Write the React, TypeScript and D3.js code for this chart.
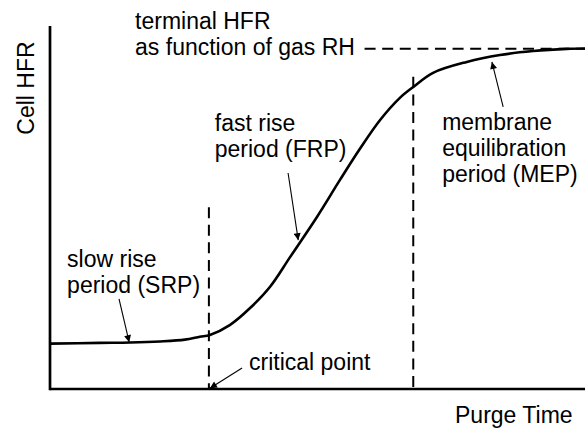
import React from "react";
import * as d3 from "d3";

// Schematic curve: purge time (0–100) vs cell HFR (0–100, arbitrary units)
const curveTime = [0, 9.3, 15, 20.6, 25.2, 28, 29.9, 33.6, 37.4, 41.1, 44.9, 49.9, 54.2, 57.9, 61.7, 65.4, 67.9, 71.6, 77.9, 84.1, 90.3, 96.6, 100];
const curveHFR = [12.5, 12.7, 12.8, 13.1, 13.6, 14.4, 14.9, 17.6, 22.3, 28.1, 36.4, 47.4, 57.6, 66.1, 74.1, 80.2, 83.2, 87.1, 90.1, 92.0, 93.1, 93.7, 93.8];

const terminalHFR = 93.7;
const terminalStart = 58.8;
const criticalTime = 29.7;
const criticalTop = 50.1;
const mepTime = 67.9;
const mepTop = 86;

const labels = [
  { lines: ["terminal HFR", "as function of gas RH"], t: 15.9, h: 99.1 },
  { lines: ["fast rise", "period (FRP)"], t: 30.8, h: 71.1 },
  { lines: ["membrane", "equilibration", "period (MEP)"], t: 73.3, h: 71.4 },
  { lines: ["slow rise", "period (SRP)"], t: 3.2, h: 33.6 },
  { lines: ["critical point"], t: 37.2, h: 5.2 },
];

// arrows: [fromT, fromH, toT, toH]
const arrows = [
  [44.5, 59.5, 46.4, 41.0],
  [84.7, 77.7, 82.6, 90.1],
  [12.9, 24.8, 14.8, 12.9],
  [35.9, 5.8, 29.9, 0.2],
];

const xLabel = "Purge Time";
const yLabel = "Cell HFR";

export default function App() {
  const W = 585;
  const H = 430;
  const x = d3.scaleLinear().domain([0, 100]).range([50, 585]);
  const y = d3.scaleLinear().domain([0, 100]).range([389, 26]);
  const pts = curveTime.map((t, i) => [t, curveHFR[i]] as [number, number]);
  const line = d3
    .line<[number, number]>()
    .x((d) => x(d[0]))
    .y((d) => y(d[1]))
    .curve(d3.curveCatmullRom.alpha(0.5));
  const font = "'Liberation Sans', Arial, sans-serif";
  const fs = 23;
  const lh = 26;
  const dash = "11,6.6";
  return (
    <svg
      width={W}
      height={H}
      style={{ position: "absolute", left: 0, top: 0, background: "#fff" }}
      fontFamily={font}
    >
      <defs>
        <marker
          id="ah"
          viewBox="0 0 10 10"
          refX="10"
          refY="5"
          markerWidth="9"
          markerHeight="7"
          markerUnits="userSpaceOnUse"
          orient="auto"
        >
          <path d="M0,0 L10,5 L0,10 z" fill="#000" />
        </marker>
      </defs>
      <rect width={W} height={H} fill="#fff" />
      {/* axes */}
      <line x1={x(0)} x2={x(0)} y1={y(100)} y2={y(0) + 1.3} stroke="#000" strokeWidth={2.7} />
      <line x1={x(0)} x2={x(100)} y1={y(0)} y2={y(0)} stroke="#000" strokeWidth={2.7} />
      {/* dashed guides */}
      <line
        x1={x(terminalStart)}
        x2={x(100)}
        y1={y(terminalHFR)}
        y2={y(terminalHFR)}
        stroke="#000"
        strokeWidth={2}
        strokeDasharray={dash}
      />
      <line
        x1={x(criticalTime)}
        x2={x(criticalTime)}
        y1={y(criticalTop)}
        y2={y(0)}
        stroke="#000"
        strokeWidth={2}
        strokeDasharray={dash}
      />
      <line
        x1={x(mepTime)}
        x2={x(mepTime)}
        y1={y(mepTop)}
        y2={y(0)}
        stroke="#000"
        strokeWidth={2}
        strokeDasharray={dash}
      />
      {/* curve */}
      <path d={line(pts) || ""} fill="none" stroke="#000" strokeWidth={2.6} />
      {/* arrows */}
      {arrows.map((a, i) => (
        <line
          key={i}
          x1={x(a[0])}
          y1={y(a[1])}
          x2={x(a[2])}
          y2={y(a[3])}
          stroke="#000"
          strokeWidth={1.1}
          markerEnd="url(#ah)"
        />
      ))}
      {/* labels */}
      {labels.map((l, i) => (
        <text key={i} x={x(l.t)} y={y(l.h)} fontSize={fs} fill="#000">
          {l.lines.map((s, j) => (
            <tspan key={j} x={x(l.t)} dy={j === 0 ? 0 : lh}>
              {s}
            </tspan>
          ))}
        </text>
      ))}
      <text x={455} y={423} fontSize={fs} fill="#000">
        {xLabel}
      </text>
      <text
        transform={`translate(34,88) rotate(-90)`}
        textAnchor="middle"
        fontSize={fs}
        fill="#000"
      >
        {yLabel}
      </text>
    </svg>
  );
}
